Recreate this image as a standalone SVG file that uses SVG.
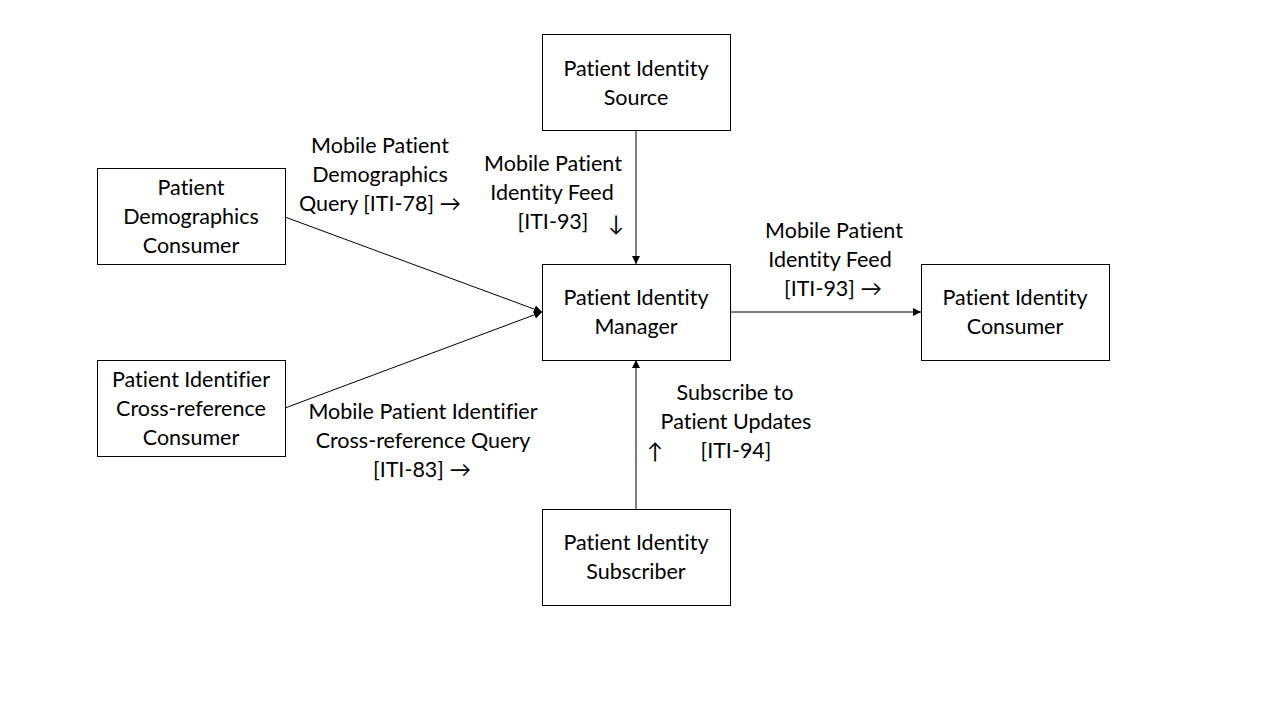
<svg xmlns="http://www.w3.org/2000/svg" width="1280" height="720" viewBox="0 0 1280 720">
<style>
.box{fill:#fff;stroke:#000;stroke-width:1}
.t{font-family:Lato,"Liberation Sans",sans-serif;font-size:21.5px;fill:#000;text-anchor:middle;font-variant-ligatures:none;font-feature-settings:"liga" 0,"dlig" 0}
.c{stroke:#000;stroke-width:1;fill:none;marker-end:url(#ah)}
</style>
<defs>
<marker id="ah" viewBox="0 0 10 10" refX="10" refY="5" markerWidth="8" markerHeight="8" markerUnits="userSpaceOnUse" orient="auto">
<path d="M0,0 L10,5 L0,10 z" fill="#000"/>
</marker>
</defs>
<rect width="1280" height="720" fill="#fff"/>
<g id="connectors">
<line class="c" x1="285" y1="217" x2="542" y2="312"/>
<line class="c" x1="285" y1="408" x2="542" y2="312"/>
<line class="c" x1="636" y1="130" x2="636" y2="264"/>
<line class="c" x1="730" y1="312" x2="921" y2="312"/>
<line class="c" x1="636" y1="509" x2="636" y2="360"/>
</g>
<g id="labels">
<text class="t" x="380" y="153">Mobile Patient</text>
<text class="t" x="380" y="182">Demographics</text>
<text class="t" x="380" y="211">Query [ITI-78] →</text>
<text class="t" x="553" y="171">Mobile Patient</text>
<text class="t" x="552" y="200">Identity Feed</text>
<text class="t" x="553" y="229">[ITI-93]</text>
<text class="t" x="616" y="231">↓</text>
<text class="t" x="834" y="238">Mobile Patient</text>
<text class="t" x="830" y="267">Identity Feed</text>
<text class="t" x="833" y="296">[ITI-93] →</text>
<text class="t" x="735" y="400">Subscribe to</text>
<text class="t" x="736" y="429">Patient Updates</text>
<text class="t" x="655" y="459">↑</text>
<text class="t" x="736" y="458">[ITI-94]</text>
<text class="t" x="423" y="419">Mobile Patient Identifier</text>
<text class="t" x="423" y="448">Cross-reference Query</text>
<text class="t" x="422" y="477">[ITI-83] →</text>
</g>
<g id="source">
<rect class="box" x="542.5" y="34.5" width="188" height="96"/>
<text class="t" x="636" y="76">Patient Identity</text>
<text class="t" x="636" y="105">Source</text>
</g>
<g id="manager">
<rect class="box" x="542.5" y="264.5" width="188" height="96"/>
<text class="t" x="636" y="305">Patient Identity</text>
<text class="t" x="636" y="334">Manager</text>
</g>
<g id="demographics-consumer">
<rect class="box" x="97.5" y="168.5" width="188" height="96"/>
<text class="t" x="191" y="195">Patient</text>
<text class="t" x="191" y="224">Demographics</text>
<text class="t" x="191" y="253">Consumer</text>
</g>
<g id="xref-consumer">
<rect class="box" x="97.5" y="360.5" width="188" height="96"/>
<text class="t" x="191" y="387">Patient Identifier</text>
<text class="t" x="191" y="416">Cross-reference</text>
<text class="t" x="191" y="445">Consumer</text>
</g>
<g id="identity-consumer">
<rect class="box" x="921.5" y="264.5" width="188" height="96"/>
<text class="t" x="1015" y="305">Patient Identity</text>
<text class="t" x="1015" y="334">Consumer</text>
</g>
<g id="subscriber">
<rect class="box" x="542.5" y="509.5" width="188" height="96"/>
<text class="t" x="636" y="550">Patient Identity</text>
<text class="t" x="636" y="579">Subscriber</text>
</g>
</svg>
